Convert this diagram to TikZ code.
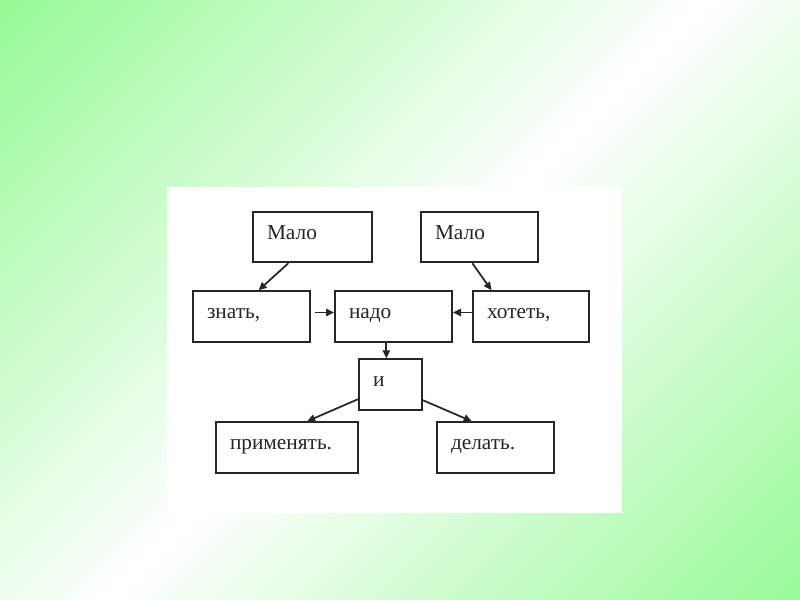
\documentclass[tikz,border=0pt]{standalone}
\usepackage{fontspec}
\setmainfont{Liberation Serif}
\usetikzlibrary{arrows.meta,calc}
\newdimen\px \px=0.75pt
\definecolor{bggreen}{RGB}{150,250,150}
\begin{document}
\begin{tikzpicture}[x=0.75pt,y=-0.75pt,
  box/.style={draw=black!85,line width=1.5pt,fill=white,inner xsep=14\px,inner ysep=0pt,
    minimum height=50.5\px,align=left,text height=9pt,text depth=6pt,
    text=black!85,font=\fontsize{16pt}{18pt}\selectfont},
  arr/.style={draw=black!85,line width=1.3pt,-{Triangle[length=6pt,width=5.5pt]}}]
\useasboundingbox (0,0) rectangle (800,600);
% background gradient
\begin{scope}
\clip (0,0) rectangle (800,600);
\foreach \i in {0,...,139}{
  \pgfmathsetmacro\ca{\i*10}
  \pgfmathsetmacro\cb{\i*10+11}
  \pgfmathsetmacro\s{min(100,abs(\i*10+5-710)/700*100)}
  \fill[bggreen!\s!white] (\ca,0) -- (\cb,0) -- (\cb-600,600) -- (\ca-600,600) -- cycle;
}
\end{scope}
% white panel
\fill[white] (167,187) rectangle (622,513);
% boxes
\node[box,text width=91\px] (m1) at (312.5,237) {Мало};
\node[box,text width=89\px] (m2) at (479.5,237) {Мало};
\node[box,text width=89\px] (z) at (251.5,316.5) {знать,};
\node[box,text width=89\px] (n) at (393.5,316.5) {надо};
\node[box,text width=88\px] (h) at (531,316.5) {хотеть,};
\node[box,text width=35\px] (i) at (390.5,384.5) {и};
\node[box,text width=114\px] (p) at (287,447.5) {применять.};
\node[box,text width=89\px] (d) at (495.5,447.5) {делать.};
% connectors
\draw[arr] ($(m1.south west)!0.3!(m1.south east)$) -- ($(z.north west)!0.56!(z.north east)$);
\draw[arr] ($(m2.south west)!0.44!(m2.south east)$) -- ($(h.north west)!0.165!(h.north east)$);
\draw[arr] ([xshift=4\px,yshift=4\px]z.east) -- ([yshift=4\px]n.west);
\draw[arr] ([yshift=4\px]h.west) -- ([yshift=4\px]n.east);
\coordinate (ns) at ($(n.south west)!0.44!(n.south east)$);
\draw[arr] (ns) -- (ns |- i.north);
\draw[arr] ($(i.north west)!0.78!(i.south west)$) -- ($(p.north west)!0.64!(p.north east)$);
\draw[arr] ($(i.north east)!0.8!(i.south east)$) -- ($(d.north west)!0.3!(d.north east)$);
\end{tikzpicture}
\end{document}
